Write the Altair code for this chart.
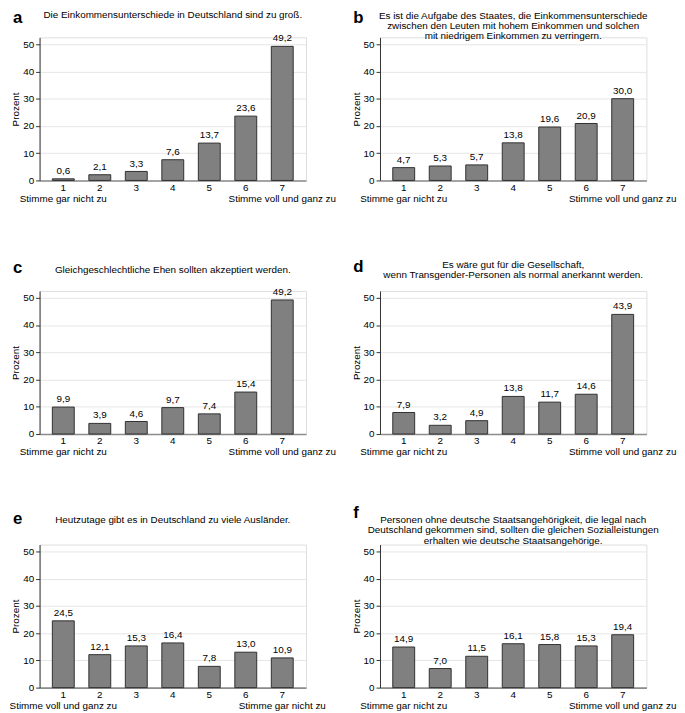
import altair as alt
import pandas as pd

# ---- data ----
categories = [1, 2, 3, 4, 5, 6, 7]

values_a = [0.6, 2.1, 3.3, 7.6, 13.7, 23.6, 49.2]
values_b = [4.7, 5.3, 5.7, 13.8, 19.6, 20.9, 30.0]
values_c = [9.9, 3.9, 4.6, 9.7, 7.4, 15.4, 49.2]
values_d = [7.9, 3.2, 4.9, 13.8, 11.7, 14.6, 43.9]
values_e = [24.5, 12.1, 15.3, 16.4, 7.8, 13.0, 10.9]
values_f = [14.9, 7.0, 11.5, 16.1, 15.8, 15.3, 19.4]

letters = ["a", "b", "c", "d", "e", "f"]

titles = [
    ["Die Einkommensunterschiede in Deutschland sind zu groß."],
    ["Es ist die Aufgabe des Staates, die Einkommensunterschiede",
     "zwischen den Leuten mit hohem Einkommen und solchen",
     "mit niedrigem Einkommen zu verringern."],
    ["Gleichgeschlechtliche Ehen sollten akzeptiert werden."],
    ["Es wäre gut für die Gesellschaft,",
     "wenn Transgender-Personen als normal anerkannt werden."],
    ["Heutzutage gibt es in Deutschland zu viele Ausländer."],
    ["Personen ohne deutsche Staatsangehörigkeit, die legal nach",
     "Deutschland gekommen sind, sollten die gleichen Sozialleistungen",
     "erhalten wie deutsche Staatsangehörige."],
]

low_label = "Stimme gar nicht zu"
high_label = "Stimme voll und ganz zu"
anchors = [
    (low_label, high_label),
    (low_label, high_label),
    (low_label, high_label),
    (low_label, high_label),
    (high_label, low_label),
    (low_label, high_label),
]

y_ticks = [0, 10, 20, 30, 40, 50]
y_title = "Prozent"

all_values = [values_a, values_b, values_c, values_d, values_e, values_f]

# ---- layout / style ----
W, H = 270, 145
FONT = "Liberation Sans"
title_y = [-22.5, -22, -21.5, -26.5, -25, -25]
letter_y = [-15, -15, -18.5, -19.5, -21, -26.5]


def panel(i):
    df = pd.DataFrame({"k": categories, "v": all_values[i]})
    lo, hi = anchors[i]
    label_expr = (
        f"datum.label == '1' ? ['1', '{lo}'] : "
        f"datum.label == '7' ? ['7', '{hi}'] : datum.label"
    )
    x = alt.X(
        "k:O",
        scale=alt.Scale(paddingInner=0.4, paddingOuter=0.35),
        axis=alt.Axis(
            title=None, labelAngle=0, ticks=False, labelPadding=2,
            labelExpr=label_expr, labelLineHeight=11, labelFontSize=10,
            labelColor="#000000", labelFont=FONT,
            domainColor="#8c8c8c", domainWidth=1.6, grid=False,
        ),
    )
    y = alt.Y(
        "v:Q",
        scale=alt.Scale(domain=[0, 52.5], nice=False),
        axis=alt.Axis(
            title=y_title, values=y_ticks, tickSize=4, tickColor="#333333",
            labelPadding=2, labelFontSize=10, labelColor="#000000",
            labelOverlap=False, labelFlush=False,
            labelFont=FONT, titleFont=FONT, titleFontSize=10,
            titleFontWeight="normal", titleColor="#000000", titlePadding=2,
            domainColor="#333333", domainWidth=1, grid=True,
            gridColor="#e6e6e6", gridWidth=1,
        ),
    )
    base = alt.Chart(df)
    bars = base.mark_bar(
        color="#808080", stroke="#303030", strokeWidth=1
    ).encode(x=x, y=y)
    labels = base.transform_calculate(
        lab="replace(format(datum.v, '.1f'), '.', ',')"
    ).mark_text(
        baseline="bottom", dy=-3, fontSize=10, font=FONT, color="#000000"
    ).encode(x=x, y=y, text="lab:N")

    one = alt.Chart(pd.DataFrame({"n": [0]}))
    title = one.mark_text(
        text=titles[i], align="center", baseline="middle", fontSize=10,
        lineHeight=10.5, font=FONT, color="#000000",
    ).encode(x=alt.value(W / 2), y=alt.value(title_y[i]))
    letter = one.mark_text(
        text=letters[i], align="left", baseline="alphabetic", fontSize=17,
        fontWeight="bold", font=FONT, color="#000000",
    ).encode(x=alt.value(-27), y=alt.value(letter_y[i]))

    return alt.layer(bars, labels, title, letter).properties(width=W, height=H)


chart = alt.concat(
    *[panel(i) for i in range(6)],
    columns=2,
    spacing={"row": 112, "column": 75},
    bounds="flush",
).properties(
    padding={"left": 0, "top": -5, "right": 0, "bottom": 0}
).configure_view(strokeWidth=0).configure(background="white")

chart.save("out.html", embed_options={"renderer": "svg", "actions": False})
